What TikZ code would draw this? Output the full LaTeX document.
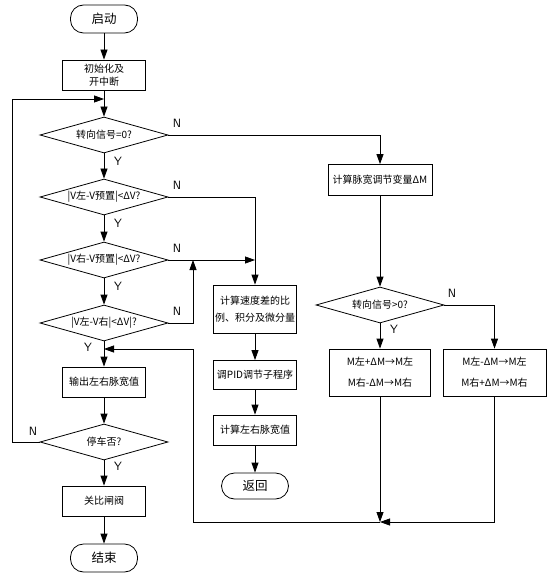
\documentclass[tikz,border=0pt]{standalone}
\usepackage{fontspec}
\setmainfont{Noto Sans CJK SC}
\usetikzlibrary{shapes.geometric,arrows.meta}
\begin{document}
\begin{tikzpicture}[x=1pt,y=-1pt,
  ln/.style={line width=0.8pt},
  arr/.style={ln,-{Triangle[length=10pt,width=7pt]}},
  box/.style={draw,ln,rectangle,minimum width=83pt,minimum height=30pt,inner sep=1pt,align=center,font=\fontsize{10}{13}\selectfont},
  term/.style={draw,ln,rectangle,rounded corners=13pt,minimum width=67pt,minimum height=28pt,inner sep=1pt,font=\fontsize{12.5}{14}\selectfont},
  dec/.style={draw,ln,diamond,aspect=3.5,minimum width=128pt,minimum height=36pt,inner sep=0pt,font=\fontsize{10}{12}\selectfont},
  lab/.style={font=\fontsize{12}{12}\selectfont\sffamily,inner sep=0pt}]
\fill[white] (0,0) rectangle (557,588);
\useasboundingbox (0,0) rectangle (557,588);
% main column
\node[term] (start) at (104,19) {启动};
\node[box,font=\fontsize{10}{12.5}\selectfont] (init) at (104,75) {初始化及\\开中断};
\node[dec] (d1) at (104,135) {转向信号=0?};
\node[dec] (d2) at (104,197) {|V左-V预置|<ΔV?};
\node[dec] (d3) at (104,260) {|V右-V预置|<ΔV?};
\node[dec] (d4) at (104,323) {|V左-V右|<ΔV|?};
\node[box] (out) at (104,382) {输出左右脉宽值};
\node[dec] (stop) at (104,442) {停车否?};
\node[box] (close) at (104,501) {关比闸阀};
\node[term] (endn) at (104,558) {结束};
% middle column
\node[box,minimum height=48pt,font=\fontsize{10}{17}\selectfont] (pidc) at (255,309) {计算速度差的比\\例、积分及微分量};
\node[box,minimum height=29pt] (pid) at (255,375) {调PID调节子程序};
\node[box] (calc) at (255,430) {计算左右脉宽值};
\node[term,minimum height=26pt] (ret) at (255,486) {返回};
% right column
\node[box,minimum width=104pt,minimum height=31pt] (dm) at (380,180) {计算脉宽调节变量ΔM};
\node[dec] (d5) at (380,305) {转向信号>0?};
\node[box,minimum width=101pt,minimum height=47pt,font=\fontsize{10}{21}\selectfont] (bl) at (380,372.5) {M左+ΔM→M左\\M右-ΔM→M右};
\node[box,minimum width=103pt,minimum height=47pt,font=\fontsize{10}{21}\selectfont] (br) at (494.5,372.5) {M左-ΔM→M左\\M右+ΔM→M右};
% coordinates
\coordinate (loopj) at (104,99);
\coordinate (loopa) at (12,442);
\coordinate (loopb) at (12,99);
\coordinate (j3) at (255,260);
\coordinate (j4) at (193,260);
\coordinate (m1) at (104,349);
\coordinate (m2) at (193,349);
\coordinate (m3) at (193,522);
\coordinate (m4) at (380,522);
% connectors main
\draw[arr] (start) -- (init);
\draw[arr] (init) -- (d1);
\draw[arr] (d1) -- (d2);
\draw[arr] (d2) -- (d3);
\draw[arr] (d3) -- (d4);
\draw[arr] (d4) -- (out);
\draw[arr] (out) -- (stop);
\draw[arr] (stop) -- (close);
\draw[arr] (close) -- (endn);
\draw[arr] (stop.west) -- (loopa) -- (loopb) -- (loopj);
% branches
\draw[arr] (d1.east) -| (dm.north);
\draw[arr] (dm) -- (d5);
\draw[arr] (d2.east) -| (pidc.north);
\draw[arr] (d3.east) -- (j3);
\draw[arr] (d4.east) -| (j4);
\draw[arr] (pidc) -- (pid);
\draw[arr] (pid) -- (calc);
\draw[arr] (calc) -- (ret);
\draw[arr] (d5) -- (bl);
\draw[arr] (d5.east) -| (br.north);
\draw[arr] (bl) -- (m4);
\draw[arr] (br.south) |- (m4);
\draw[arr] (m4) -- (m3) -- (m2) -- (m1);
% labels
\node[lab] (n1) at (177,123) {N};
\node[lab] (y1) at (118,161) {Y};
\node[lab] (n2) at (177,185) {N};
\node[lab] (y2) at (118,223) {Y};
\node[lab] (n3) at (177,248) {N};
\node[lab] (y3) at (118,286) {Y};
\node[lab] (n4) at (177,311) {N};
\node[lab] (y4) at (88,347) {Y};
\node[lab] (n5) at (33,431) {N};
\node[lab] (y5) at (118,466) {Y};
\node[lab] (n6) at (452,293) {N};
\node[lab] (y6) at (394,329) {Y};
\end{tikzpicture}
\end{document}
